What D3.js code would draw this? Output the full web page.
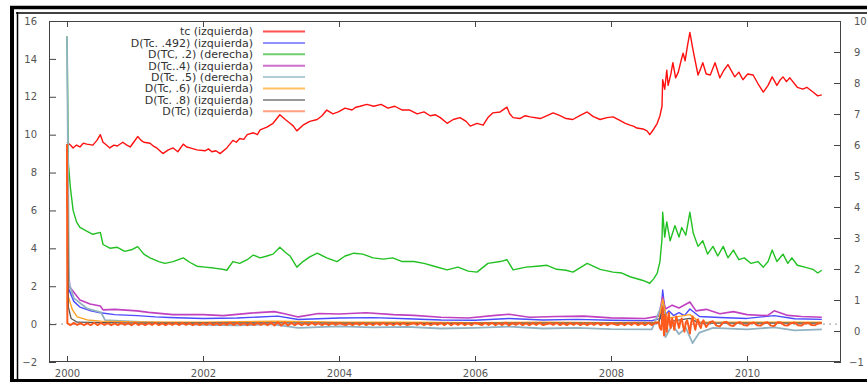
<!DOCTYPE html>
<html><head><meta charset="utf-8">
<script src="https://cdn.jsdelivr.net/npm/d3@7"></script>
<style>body{margin:0;background:#fff}svg{display:block}</style></head>
<body>
<svg id="c" width="867" height="383"></svg>
<script>
// ---------- data ----------
const xTickYears = [2000, 2002, 2004, 2006, 2008, 2010];
const leftTicks = [-2, 0, 2, 4, 6, 8, 10, 12, 14, 16];
const rightTicks = [-1, 0, 1, 2, 3, 4, 5, 6, 7, 8, 9, 10];

const legendLabels = ["tc (izquierda)", "D(Tc. .492) (izquierda)", "D(TC, .2) (derecha)", "D(Tc..4) (izquierda)",
  "D(Tc. .5) (derecha)", "D(Tc, .6) (izquierda)", "D(Tc. .8) (izquierda)", "D(Tc) (izquierda)"];

// tc (left axis)
const tc = [[2000.0,9.6],[2000.05,9.45],[2000.09,9.3],[2000.14,9.45],[2000.19,9.35],[2000.24,9.55],[2000.29,9.5],[2000.38,9.45],[2000.44,9.7],[2000.49,10.0],[2000.53,9.6],[2000.58,9.45],[2000.63,9.3],
[2000.69,9.45],[2000.74,9.4],[2000.82,9.6],[2000.88,9.45],[2000.93,9.35],[2000.98,9.6],[2001.04,9.9],[2001.09,9.7],[2001.13,9.6],[2001.22,9.55],[2001.27,9.4],[2001.32,9.3],[2001.41,9.0],[2001.49,9.2],
[2001.56,9.3],[2001.63,9.1],[2001.71,9.5],[2001.76,9.35],[2001.81,9.3],[2001.91,9.2],[2002.03,9.15],[2002.08,9.25],[2002.13,9.1],[2002.19,9.15],[2002.25,9.0],[2002.35,9.3],
[2002.44,9.7],[2002.49,9.6],[2002.54,9.8],[2002.6,9.75],[2002.65,10.0],[2002.74,10.1],[2002.8,10.0],[2002.84,10.25],[2002.94,10.4],[2003.03,10.6],[2003.13,11.05],
[2003.21,10.8],[2003.28,10.6],[2003.33,10.45],[2003.38,10.2],[2003.47,10.5],[2003.57,10.7],[2003.68,10.8],[2003.75,11.0],[2003.82,11.3],
[2003.91,11.1],[2003.99,11.2],[2004.09,11.4],[2004.19,11.3],[2004.25,11.45],[2004.31,11.5],[2004.41,11.6],[2004.51,11.5],[2004.62,11.6],
[2004.72,11.4],[2004.82,11.5],[2004.93,11.3],[2005.04,11.3],[2005.15,11.1],[2005.25,11.2],[2005.34,11.0],[2005.42,11.05],[2005.49,10.9],
[2005.59,10.6],[2005.68,10.8],[2005.78,10.9],[2005.87,10.7],[2005.93,10.45],[2006.03,10.6],[2006.12,10.5],[2006.19,10.9],
[2006.26,11.15],[2006.37,11.2],[2006.47,11.45],[2006.51,11.1],[2006.56,10.9],[2006.66,10.85],[2006.74,11.0],[2006.81,10.94],[2006.96,10.85],
[2007.06,11.0],[2007.15,11.15],[2007.25,11.0],[2007.34,10.85],[2007.44,10.8],[2007.54,11.0],[2007.65,11.2],[2007.74,10.95],
[2007.84,10.8],[2007.94,10.9],[2008.03,10.94],[2008.13,10.75],[2008.21,10.6],[2008.28,10.5],[2008.33,10.45],[2008.38,10.35],[2008.47,10.3],
[2008.53,10.2],[2008.57,10.0],[2008.63,10.3],[2008.68,10.6],[2008.72,11.0],[2008.75,11.5],[2008.76,12.9],[2008.79,12.4],[2008.82,13.4],
[2008.84,12.6],[2008.88,13.2],[2008.91,13.8],[2008.95,13.0],[2008.99,13.3],[2009.03,13.9],[2009.06,14.3],[2009.09,13.9],[2009.12,14.6],[2009.16,15.4],[2009.21,14.4],[2009.28,13.15],
[2009.32,13.5],[2009.35,13.8],[2009.4,13.2],[2009.46,13.15],[2009.53,13.8],[2009.6,13.0],[2009.66,13.4],[2009.72,13.7],[2009.82,13.05],[2009.88,13.3],[2009.94,12.9],[2010.01,13.2],
[2010.09,13.15],[2010.16,12.7],[2010.24,12.25],[2010.31,12.6],[2010.37,13.05],[2010.44,12.6],[2010.49,12.9],[2010.53,13.05],[2010.58,12.8],[2010.63,13.0],
[2010.74,12.5],[2010.82,12.4],[2010.88,12.5],[2010.97,12.25],[2011.04,12.05],[2011.1,12.1]];

// D(Tc, .492) (left axis)
const d492 = [[2000.0,9.5],[2000.02,1.9],[2000.1,1.2],[2000.19,0.9],[2000.35,0.7],[2000.49,0.6],[2000.7,0.5],[2001.03,0.45],
[2001.3,0.38],[2001.5,0.35],[2002.0,0.3],[2002.5,0.32],[2003.1,0.42],[2003.4,0.24],[2004.0,0.32],[2004.5,0.34],[2005.0,0.28],
[2005.5,0.22],[2006.0,0.2],[2006.5,0.3],[2007.0,0.22],[2007.5,0.25],[2008.0,0.2],[2008.6,0.18],[2008.73,0.3],[2008.76,1.8],
[2008.8,0.5],[2008.85,0.7],[2008.92,0.45],[2009.0,0.6],[2009.08,0.45],[2009.16,0.8],[2009.3,0.4],[2009.6,0.35],[2010.0,0.3],
[2010.4,0.45],[2010.7,0.28],[2011.1,0.25]];

// D(TC, .2) (right axis)
const d2 = [[2000.0,9.51],[2000.02,5.42],[2000.05,4.62],[2000.09,3.89],[2000.14,3.52],[2000.19,3.34],[2000.29,3.22],[2000.38,3.12],
[2000.49,3.18],[2000.53,2.79],[2000.63,2.67],[2000.74,2.70],[2000.85,2.57],[2000.96,2.63],[2001.04,2.72],[2001.13,2.48],
[2001.22,2.36],[2001.35,2.24],[2001.44,2.18],[2001.56,2.24],[2001.71,2.36],[2001.81,2.21],[2001.91,2.09],[2002.03,2.06],
[2002.16,2.03],[2002.29,1.99],[2002.35,1.96],[2002.44,2.24],[2002.54,2.18],[2002.65,2.30],[2002.74,2.45],[2002.84,2.36],
[2002.94,2.42],[2003.03,2.48],[2003.13,2.70],[2003.21,2.54],[2003.28,2.42],[2003.38,2.06],[2003.47,2.24],[2003.57,2.39],
[2003.68,2.51],[2003.82,2.36],[2003.97,2.24],[2004.09,2.42],[2004.22,2.51],[2004.35,2.48],[2004.5,2.36],[2004.65,2.32],
[2004.79,2.36],[2004.93,2.24],[2005.1,2.24],[2005.25,2.18],[2005.4,2.09],[2005.59,1.97],[2005.75,2.06],[2005.9,1.93],
[2006.03,1.90],[2006.19,2.18],[2006.37,2.24],[2006.47,2.30],[2006.56,1.97],[2006.75,2.06],[2006.91,2.09],[2007.06,2.12],
[2007.2,1.99],[2007.34,1.96],[2007.44,1.90],[2007.65,2.18],[2007.84,1.99],[2008.03,1.90],[2008.16,1.87],[2008.28,1.75],
[2008.47,1.63],[2008.57,1.54],[2008.63,1.69],[2008.68,1.87],[2008.72,2.24],[2008.75,2.97],[2008.76,3.83],[2008.79,3.03],
[2008.82,3.52],[2008.87,2.91],[2008.94,3.40],[2009.0,3.03],[2009.04,3.34],[2009.1,3.09],[2009.16,3.83],[2009.21,3.15],
[2009.28,2.73],[2009.35,2.91],[2009.42,2.48],[2009.5,2.73],[2009.57,2.42],[2009.65,2.73],[2009.72,2.36],[2009.8,2.61],
[2009.88,2.30],[2009.96,2.36],[2010.06,2.18],[2010.16,2.24],[2010.24,2.06],[2010.31,2.24],[2010.37,2.61],[2010.44,2.24],
[2010.53,2.48],[2010.6,2.18],[2010.66,2.36],[2010.74,2.12],[2010.85,2.06],[2010.97,1.99],[2011.04,1.87],[2011.1,1.96]];

// D(Tc, .4) (left axis)
const d4 = [[2000.0,9.5],[2000.02,3.0],[2000.04,1.96],[2000.19,1.27],[2000.34,1.06],[2000.49,0.96],[2000.53,0.75],[2000.7,0.78],
[2001.03,0.7],[2001.2,0.62],[2001.56,0.5],[2002.0,0.5],[2002.3,0.45],[2002.7,0.58],[2003.05,0.66],[2003.2,0.55],[2003.4,0.38],
[2003.7,0.56],[2004.0,0.53],[2004.4,0.6],[2004.8,0.5],[2005.1,0.46],[2005.5,0.36],[2005.9,0.32],[2006.3,0.46],[2006.5,0.52],
[2006.8,0.36],[2007.2,0.4],[2007.6,0.42],[2008.0,0.33],[2008.5,0.3],[2008.7,0.42],[2008.76,1.43],[2008.8,0.8],[2008.9,1.0],
[2009.0,0.85],[2009.1,1.05],[2009.16,1.17],[2009.25,0.7],[2009.4,0.78],[2009.6,0.55],[2009.8,0.66],[2010.0,0.5],[2010.3,0.45],
[2010.4,0.7],[2010.6,0.46],[2010.8,0.4],[2011.1,0.36]];

// D(Tc, .5) (right axis)
const d5 = [[2000.0,9.5],[2000.03,1.55],[2000.1,1.06],[2000.3,0.72],[2000.5,0.6],[2000.56,0.35],[2001.0,0.3],[2001.5,0.25],
[2002.0,0.2],[2002.5,0.18],[2003.0,0.22],[2003.4,0.1],[2004.0,0.15],[2004.5,0.12],[2005.0,0.13],[2005.5,0.08],[2006.0,0.1],
[2006.5,0.14],[2007.0,0.08],[2007.5,0.1],[2008.0,0.06],[2008.6,0.05],[2008.76,0.9],[2008.8,-0.2],[2008.9,0.2],[2009.0,-0.1],
[2009.1,0.1],[2009.2,-0.39],[2009.3,-0.05],[2009.5,0.1],[2010.0,0.05],[2010.4,0.12],[2010.7,0.02],[2011.1,0.05]];

// D(Tc, .6) (left axis)
const d6 = [[2000.0,9.5],[2000.02,1.43],[2000.08,0.75],[2000.15,0.38],[2000.3,0.22],[2000.5,0.16],[2001.0,0.12],[2002.0,0.1],
[2003.1,0.15],[2004.0,0.1],[2005.0,0.1],[2006.0,0.08],[2007.0,0.1],[2008.0,0.08],[2008.7,0.1],[2008.76,1.3],[2008.82,0.3],
[2009.16,0.5],[2009.3,0.12],[2010.0,0.1],[2011.1,0.1]];

// D(Tc, .8) (left axis)
const d8 = [[2000.0,9.5],[2000.02,0.9],[2000.06,0.3],[2000.15,0.1],[2001.0,0.05],[2003.0,0.06],[2005.0,0.04],[2007.0,0.05],
[2008.7,0.05],[2008.76,0.8],[2008.8,0.1],[2009.16,0.3],[2009.3,0.05],[2011.1,0.05]];

// D(Tc) (left axis)
const d1 = [[2000.0,9.5],[2000.005,0.05],[2000.05,-0.05],[2000.1,0.06],[2000.15,-0.04],[2000.2,0.05],[2000.25,-0.06],[2000.3,0.04],
[2000.35,-0.05],[2000.4,0.07],[2000.45,-0.05],[2000.5,0.06],[2000.55,-0.04],[2000.6,0.05],[2000.65,-0.06],[2000.7,0.04],
[2000.75,-0.05],[2000.8,0.06],[2000.85,-0.04],[2000.9,0.05],[2000.95,-0.06],[2001.0,0.08],[2001.05,-0.05],[2001.1,0.04],
[2001.15,-0.06],[2001.2,0.05],[2001.25,-0.04],[2001.3,0.06],[2001.35,-0.05],[2001.4,0.04],[2001.45,-0.06],[2001.5,0.05],
[2001.55,-0.04],[2001.6,0.06],[2001.65,-0.05],[2001.7,0.07],[2001.75,-0.04],[2001.8,0.05],[2001.85,-0.06],[2001.9,0.04],
[2001.95,-0.05],[2002.0,0.05],[2002.05,-0.04],[2002.1,0.06],[2002.15,-0.05],[2002.2,0.04],[2002.25,-0.06],[2002.3,0.05],
[2002.35,-0.04],[2002.4,0.08],[2002.45,-0.05],[2002.5,0.06],[2002.55,-0.04],[2002.6,0.05],[2002.65,-0.06],[2002.7,0.05],
[2002.75,-0.05],[2002.8,0.06],[2002.85,-0.04],[2002.9,0.05],[2002.95,-0.06],[2003.0,0.08],[2003.05,-0.07],[2003.1,0.1],
[2003.15,-0.08],[2003.2,0.09],[2003.25,-0.07],[2003.3,0.06],[2003.35,-0.05],[2003.4,0.05],[2003.45,-0.06],[2003.5,0.04],
[2003.55,-0.05],[2003.6,0.06],[2003.65,-0.04],[2003.7,0.05],[2003.75,-0.06],[2003.8,0.04],[2003.85,-0.05],[2003.9,0.06],
[2003.95,-0.04],[2004.0,0.05],[2004.1,-0.05],[2004.15,0.04],[2004.2,-0.06],[2004.25,0.05],[2004.3,-0.04],[2004.35,0.06],
[2004.4,-0.05],[2004.45,0.04],[2004.5,-0.06],[2004.55,0.05],[2004.6,-0.04],[2004.65,0.06],[2004.7,-0.05],[2004.75,0.04],
[2004.8,-0.06],[2004.85,0.05],[2004.9,-0.04],[2004.95,0.06],[2005.0,-0.05],[2005.1,0.05],[2005.15,-0.04],[2005.2,0.06],
[2005.25,-0.05],[2005.3,0.04],[2005.35,-0.06],[2005.4,0.05],[2005.45,-0.04],[2005.5,0.06],[2005.55,-0.05],[2005.6,0.07],
[2005.65,-0.06],[2005.7,0.05],[2005.75,-0.04],[2005.8,0.06],[2005.85,-0.05],[2005.9,0.04],[2005.95,-0.06],[2006.0,0.07],
[2006.1,-0.05],[2006.15,0.06],[2006.2,-0.04],[2006.25,0.07],[2006.3,-0.06],[2006.35,0.05],[2006.4,-0.05],[2006.45,0.08],
[2006.5,-0.07],[2006.55,0.05],[2006.6,-0.04],[2006.65,0.06],[2006.7,-0.05],[2006.75,0.04],[2006.8,-0.06],[2006.85,0.05],
[2006.9,-0.04],[2006.95,0.06],[2007.0,-0.05],[2007.1,0.05],[2007.15,-0.04],[2007.2,0.06],[2007.25,-0.05],[2007.3,0.04],
[2007.35,-0.06],[2007.4,0.05],[2007.45,-0.04],[2007.5,0.06],[2007.55,-0.05],[2007.6,0.04],[2007.65,-0.06],[2007.7,0.05],
[2007.75,-0.04],[2007.8,0.06],[2007.85,-0.05],[2007.9,0.04],[2007.95,-0.06],[2008.0,0.05],[2008.1,-0.05],[2008.15,0.04],
[2008.2,-0.06],[2008.25,0.05],[2008.3,-0.04],[2008.35,0.06],[2008.4,-0.05],[2008.45,0.05],[2008.5,-0.06],[2008.55,0.06],
[2008.6,-0.05],[2008.65,0.07],[2008.7,0.1],
[2008.72,-0.2],[2008.74,-0.3],[2008.76,0.9],[2008.77,0.2],[2008.78,-0.6],[2008.8,0.5],[2008.82,-0.4],[2008.84,0.3],[2008.85,0.6],
[2008.87,-0.1],[2008.88,-0.2],[2008.9,0.3],[2008.92,0.0],[2008.93,-0.3],[2008.96,0.4],[2008.98,0.1],[2009.0,-0.2],[2009.02,0.15],
[2009.04,0.3],[2009.06,-0.1],[2009.08,-0.4],[2009.1,0.1],[2009.12,0.2],[2009.14,-0.1],[2009.16,-0.5],[2009.18,0.1],[2009.2,0.4],
[2009.22,0.0],[2009.24,-0.3],[2009.26,0.1],[2009.28,0.25],[2009.3,-0.05],[2009.32,-0.2],[2009.34,0.1],[2009.36,0.2],[2009.38,0.0],
[2009.4,-0.15],[2009.45,0.1],[2009.5,0.15],[2009.55,-0.08],[2009.6,-0.12],[2009.65,0.08],[2009.7,0.12],[2009.75,-0.06],
[2009.8,-0.1],[2009.85,0.06],[2009.9,0.1],[2009.95,-0.05],[2010.0,-0.08],[2010.05,0.05],[2010.1,0.08],[2010.15,-0.06],
[2010.2,-0.08],[2010.25,0.06],[2010.3,0.1],[2010.35,-0.08],[2010.4,-0.1],[2010.45,0.1],[2010.5,0.08],[2010.55,-0.06],
[2010.6,-0.07],[2010.65,0.05],[2010.7,0.08],[2010.75,-0.06],[2010.8,-0.08],[2010.85,0.05],[2010.9,0.06],[2010.95,-0.05],
[2011.0,-0.06],[2011.05,0.05],[2011.1,0.04]];

// ---------- drawing ----------
const svg = d3.select('#c');
const x = d3.scaleLinear().domain([2000, 2010]).range([67, 747]);
const yL = d3.scaleLinear().domain([-2, 16]).range([362, 21]);
const yR = d3.scaleLinear().domain([-1, 10]).range([362, 21]);

// outer black frame
const fr = svg.append('g').attr('stroke', '#000').attr('fill', 'none');
fr.append('line').attr('x1', 10).attr('x2', 867).attr('y1', 7.5).attr('y2', 7.5).attr('stroke-width', 3.5);
fr.append('line').attr('x1', 16).attr('x2', 867).attr('y1', 13).attr('y2', 13).attr('stroke-width', 1.5);
fr.append('line').attr('x1', 12).attr('x2', 12).attr('y1', 6).attr('y2', 382).attr('stroke-width', 4);
fr.append('line').attr('x1', 17.5).attr('x2', 17.5).attr('y1', 12).attr('y2', 379).attr('stroke-width', 1.5);
fr.append('line').attr('x1', 10).attr('x2', 867).attr('y1', 380.5).attr('y2', 380.5).attr('stroke-width', 3);

// zero dotted line
svg.append('line').attr('x1', 49).attr('x2', 841).attr('y1', yL(0)).attr('y2', yL(0))
  .attr('stroke', '#999').attr('stroke-dasharray', '2,4').attr('stroke-width', 1);

// axes
function styleAxis(g) {
  g.select('.domain').remove();
  g.selectAll('line').attr('stroke', '#444');
  g.selectAll('text').attr('fill', '#555').attr('font-family', 'DejaVu Sans').attr('font-size', 10);
}
svg.append('g').attr('transform', 'translate(49,0)')
  .call(d3.axisLeft(yL).tickValues(leftTicks).tickSize(-7).tickPadding(12)).call(styleAxis);
const rAx = svg.append('g').attr('transform', 'translate(841,0)')
  .call(d3.axisRight(yR).tickValues(rightTicks).tickSize(-7).tickPadding(13)).call(styleAxis);
rAx.selectAll('.tick text').filter(d => d < 0).attr('dx', -5);
svg.append('g').attr('transform', 'translate(0,362)')
  .call(d3.axisBottom(x).tickValues(xTickYears).tickFormat(d3.format('d')).tickSize(-6).tickPadding(8)).call(styleAxis);
svg.append('g').attr('transform', 'translate(0,21)')
  .call(d3.axisTop(x).tickValues(xTickYears).tickFormat('').tickSize(-6)).call(styleAxis);

// plot frame
svg.append('rect').attr('x', 49.5).attr('y', 21.5).attr('width', 791).attr('height', 340)
  .attr('fill', 'none').attr('stroke', '#444').attr('stroke-width', 1);

// series
const series = [
  {data: tc, y: yL, color: '#ff1010', w: 1.4},
  {data: d492, y: yL, color: '#4a4aff', w: 1.4},
  {data: d2, y: yR, color: '#22c022', w: 1.4},
  {data: d4, y: yL, color: '#c040c0', w: 1.6},
  {data: d5, y: yR, color: '#92b2c2', w: 1.8},
  {data: d6, y: yL, color: '#ffa020', w: 1.4},
  {data: d8, y: yL, color: '#555555', w: 1.3},
  {data: d1, y: yL, color: '#ff5a1e', w: 2}
];
const legendColors = ['#ff5050', '#9090ff', '#70d070', '#cc70cc', '#b0ccd8', '#ffc060', '#999999', '#ffa080'];

series.forEach(s => {
  const line = d3.line().x(d => x(d[0])).y(d => s.y(d[1]));
  svg.append('path').datum(s.data).attr('d', line).attr('fill', 'none')
    .attr('stroke', s.color).attr('stroke-width', s.w).attr('stroke-linejoin', 'round');
});

// legend
const lg = svg.append('g');
legendLabels.forEach((t, i) => {
  const yy = 31.5 + i * 11.4;
  lg.append('text').attr('x', 253).attr('y', yy).attr('dy', '0.35em').attr('text-anchor', 'end')
    .attr('font-family', 'DejaVu Sans').attr('font-size', 11).attr('fill', '#333').text(t);
  lg.append('line').attr('x1', 263).attr('x2', 305).attr('y1', yy).attr('y2', yy)
    .attr('stroke', legendColors[i]).attr('stroke-width', 2);
});
</script>
</body></html>
